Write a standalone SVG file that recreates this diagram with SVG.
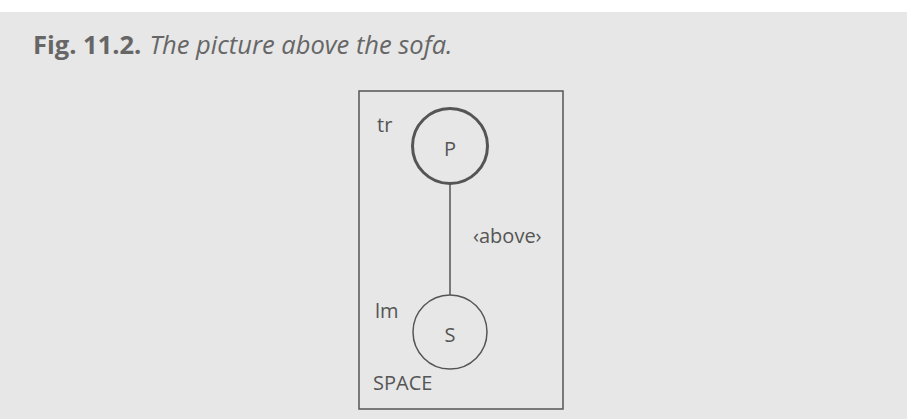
<svg xmlns="http://www.w3.org/2000/svg" width="907" height="419" viewBox="0 0 907 419">
  <style>
    .lbl { font-family: "Open Sans", "Liberation Sans", sans-serif; font-size: 20px; fill: #555; }
    .cap { font-family: "Open Sans", "Liberation Sans", sans-serif; font-size: 25.5px; fill: #666; }
    .edge { stroke: #555; stroke-width: 1.5; fill: none; }
  </style>
  <rect x="0" y="0" width="907" height="419" fill="#e6e7e6"/>
  <rect x="0" y="0" width="907" height="12" fill="#ffffff"/>
  <text class="cap" x="33" y="54"><tspan font-weight="bold">Fig. 11.2.</tspan><tspan font-style="italic" dx="8">The picture above the sofa.</tspan></text>

  <g id="space">
    <rect x="359" y="91" width="204" height="318" fill="none" stroke="#555" stroke-width="1.5"/>
    <text class="lbl" x="373" y="390">SPACE</text>
  </g>

  <g id="connectors">
    <line class="edge" x1="450" y1="184" x2="450" y2="295"/>
    <text class="lbl" x="473" y="243">‹above›</text>
  </g>

  <g id="node-P">
    <circle cx="450" cy="146" r="37.5" fill="none" stroke="#555" stroke-width="3"/>
    <text class="lbl" x="450" y="156" text-anchor="middle">P</text>
    <text class="lbl" x="377" y="132">tr</text>
  </g>

  <g id="node-S">
    <circle cx="450" cy="332" r="37" fill="none" stroke="#555" stroke-width="1.5"/>
    <text class="lbl" x="450" y="342" text-anchor="middle">S</text>
    <text class="lbl" x="375" y="318">lm</text>
  </g>
</svg>
